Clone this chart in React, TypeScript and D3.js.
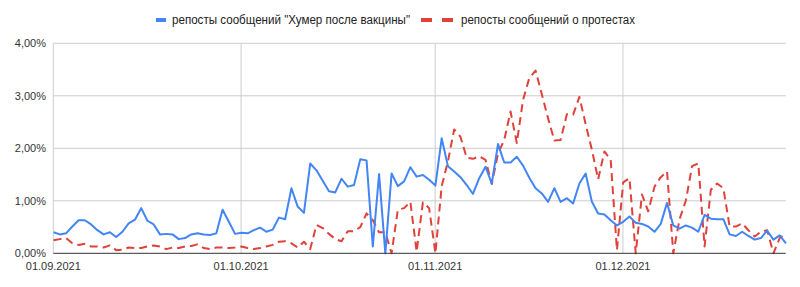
import React from "react";
import * as d3 from "d3";

const startDate = new Date(2021, 8, 1);
const endDate = new Date(2021, 11, 27);

const seriesNames = [
  "репосты сообщений \"Хумер после вакцины\"",
  "репосты сообщений о протестах",
];

const humerReposts = [
  0.40, 0.36, 0.38, 0.51, 0.63, 0.63, 0.55, 0.44, 0.36, 0.40,
  0.31, 0.41, 0.57, 0.64, 0.86, 0.62, 0.55, 0.36, 0.37, 0.36,
  0.27, 0.29, 0.36, 0.38, 0.36, 0.35, 0.38, 0.83, 0.60, 0.37,
  0.39, 0.38, 0.44, 0.49, 0.41, 0.45, 0.68, 0.65, 1.24, 0.89,
  0.77, 1.71, 1.58, 1.38, 1.18, 1.16, 1.42, 1.27, 1.30, 1.79,
  1.77, 0.13, 1.51, 0.00, 1.52, 1.28, 1.37, 1.64, 1.46, 1.49,
  1.40, 1.29, 2.19, 1.66, 1.56, 1.45, 1.30, 1.13, 1.43, 1.65,
  1.33, 2.08, 1.73, 1.73, 1.84, 1.67, 1.44, 1.24, 1.14, 0.98,
  1.24, 0.98, 1.05, 0.95, 1.33, 1.52, 0.98, 0.76, 0.74, 0.63,
  0.53, 0.60, 0.70, 0.58, 0.56, 0.51, 0.41, 0.56, 0.96, 0.53,
  0.47, 0.53, 0.49, 0.41, 0.73, 0.66, 0.65, 0.65, 0.36, 0.33,
  0.41, 0.33, 0.26, 0.29, 0.43, 0.26, 0.34, 0.19,
];

const protestReposts = [
  0.25, 0.27, 0.29, 0.19, 0.16, 0.18, 0.13, 0.13, 0.11, 0.15,
  0.06, 0.07, 0.11, 0.10, 0.10, 0.13, 0.15, 0.13, 0.08, 0.11,
  0.10, 0.13, 0.14, 0.17, 0.10, 0.08, 0.11, 0.11, 0.10, 0.11,
  0.13, 0.10, 0.08, 0.10, 0.13, 0.16, 0.22, 0.23, 0.19, 0.11,
  0.22, 0.08, 0.54, 0.48, 0.37, 0.27, 0.23, 0.42, 0.42, 0.50,
  0.76, 0.63, 0.40, 0.40, 0.00, 0.83, 0.86, 0.98, 0.03, 0.97,
  0.86, 0.00, 1.28, 1.75, 2.36, 2.22, 1.82, 1.80, 1.85, 1.78,
  1.32, 1.90, 2.16, 2.70, 2.10, 2.92, 3.34, 3.48, 3.03, 2.57,
  2.15, 2.16, 2.65, 2.64, 2.98, 2.46, 1.97, 1.41, 1.94, 1.78,
  0.06, 1.35, 1.43, 0.00, 1.12, 0.80, 1.27, 1.45, 1.56, 0.00,
  0.65, 1.00, 1.66, 1.71, 0.13, 1.21, 1.33, 1.24, 0.51, 0.51,
  0.57, 0.44, 0.32, 0.41, 0.44, 0.00, 0.29, 0.38,
];

const xTickDates = [
  new Date(2021, 8, 1),
  new Date(2021, 9, 1),
  new Date(2021, 10, 1),
  new Date(2021, 11, 1),
];
const yTicks = [0, 1, 2, 3, 4];

const BLUE = "#4285f4";
const RED = "#e0413a";
const FONT = "'Liberation Sans', Arial, sans-serif";

export default function App() {
  const x = d3.scaleTime().domain([startDate, endDate]).range([53.3, 785.7]);
  const y = d3.scaleLinear().domain([0, 4]).range([253.3, 43.3]);
  const dayMs = 24 * 3600 * 1000;
  const dateOf = (i: number) => new Date(startDate.getTime() + i * dayMs + 3600 * 1000);

  const line = d3
    .line<number>()
    .x((_, i) => x(dateOf(i)))
    .y((d) => y(d));

  const fmtDate = d3.timeFormat("%d.%m.%Y");
  const fmtY = (v: number) => v.toFixed(2).replace(".", ",") + "%";

  return (
    <svg
      width={800}
      height={287}
      style={{ position: "absolute", left: 0, top: 0, background: "#fff" }}
      fontFamily={FONT}
    >
      <rect x={0} y={0} width={800} height={287} fill="#fff" />
      {/* horizontal grid */}
      {yTicks.slice(1).map((t) => (
        <line key={"h" + t} x1={53.3} x2={785.7} y1={y(t)} y2={y(t)} stroke="#cccccc" strokeWidth={1} />
      ))}
      {/* vertical grid */}
      {xTickDates.map((d, i) => (
        <line key={"v" + i} x1={x(d)} x2={x(d)} y1={y(4)} y2={y(0)} stroke="#cccccc" strokeWidth={1} />
      ))}
      {/* y labels */}
      {yTicks.map((t) => (
        <text key={"yl" + t} x={46} y={y(t)} dy="0.35em" textAnchor="end" fontSize={11} fill="#333">
          {fmtY(t)}
        </text>
      ))}
      {/* x labels */}
      {xTickDates.map((d, i) => (
        <text key={"xl" + i} x={x(d)} y={270} textAnchor="middle" fontSize={11} fill="#333">
          {fmtDate(d)}
        </text>
      ))}
      {/* series */}
      <path d={line(protestReposts) || ""} fill="none" stroke={RED} strokeWidth={2} strokeDasharray="8,5" strokeLinejoin="round" />
      <path d={line(humerReposts) || ""} fill="none" stroke={BLUE} strokeWidth={2} strokeLinejoin="round" />
      {/* baseline */}
      <line x1={53.3} x2={785.7} y1={y(0)} y2={y(0)} stroke="#333" strokeWidth={1} />
      {/* legend */}
      <line x1={156} x2={166} y1={20} y2={20} stroke={BLUE} strokeWidth={4} />
      <text x={172} y={20} dy="0.35em" fontSize={12} fill="#222" textLength={238} lengthAdjust="spacingAndGlyphs">
        {seriesNames[0]}
      </text>
      <line x1={421} x2={453} y1={20} y2={20} stroke={RED} strokeWidth={4} strokeDasharray="11,10" />
      <text x={461} y={20} dy="0.35em" fontSize={12} fill="#222" textLength={174} lengthAdjust="spacingAndGlyphs">
        {seriesNames[1]}
      </text>
    </svg>
  );
}
